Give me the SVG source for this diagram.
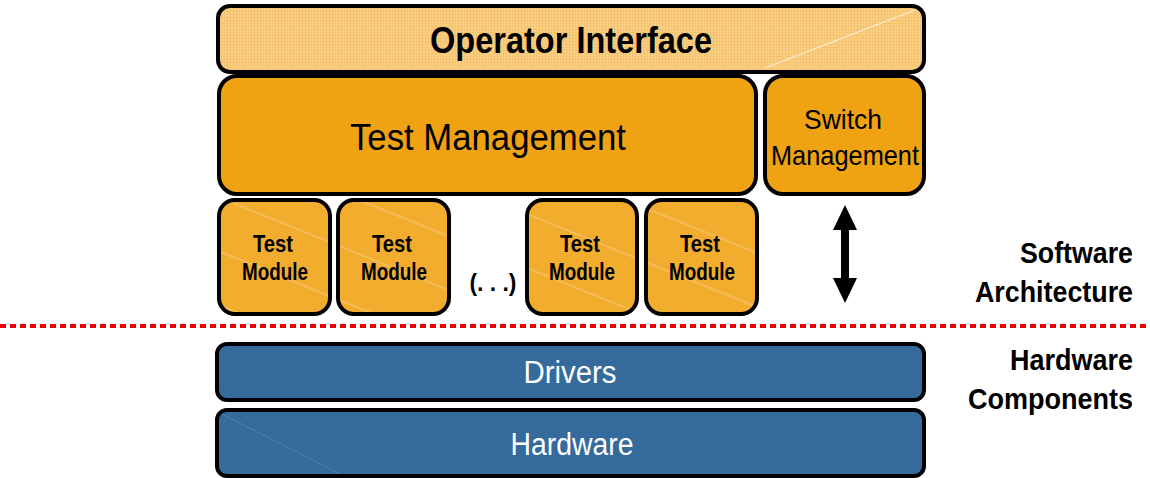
<svg xmlns="http://www.w3.org/2000/svg" width="1150" height="478" viewBox="0 0 1150 478">
<style>
text{font-family:"Liberation Sans",Arial,sans-serif;text-anchor:middle}
.box{stroke:#000;stroke-width:4}
.oi{fill:url(#grid)}
.tm{fill:#EFA212}
.mod{fill:url(#stripes)}
.hw{fill:#356A9C}
.big{font-size:36px;fill:#000}
.obig{font-size:36px;font-weight:bold;fill:#000}
.mid{font-size:28px;fill:#000}
.small{font-size:23px;font-weight:bold;fill:#000}
.side{font-size:30px;font-weight:bold;fill:#000;text-anchor:end}
.wt{font-size:31px;fill:#fff}
</style>
<defs>
<pattern id="grid" width="3" height="3" patternUnits="userSpaceOnUse">
<rect width="3" height="3" fill="#F5C46C"/>
<rect width="2" height="2" fill="#F8D08A"/>
</pattern>
<pattern id="stripes" width="120" height="50" patternUnits="userSpaceOnUse" patternTransform="rotate(22)">
<rect width="120" height="50" fill="#F2AD2E"/>
<line x1="0" y1="1" x2="120" y2="1" stroke="#F7CB7C" stroke-width="1.2"/>
</pattern>
</defs>
<g id="operator-interface">
<rect class="box oi" x="218" y="6" width="706" height="66" rx="12"/>
<line x1="765" y1="68" x2="915" y2="10" stroke="#fff" stroke-width="1" opacity="0.8"/>
<text class="obig" x="571" y="53" textLength="282" lengthAdjust="spacingAndGlyphs">Operator Interface</text>
</g>
<g id="test-management">
<rect class="box tm" x="219" y="76" width="537" height="118" rx="18"/>
<text class="big" x="488" y="150" textLength="276" lengthAdjust="spacingAndGlyphs">Test Management</text>
</g>
<g id="switch-management">
<rect class="box tm" x="765" y="76" width="159" height="118" rx="18"/>
<text class="mid" x="843" y="129" textLength="78" lengthAdjust="spacingAndGlyphs">Switch</text>
<text class="mid" x="845" y="165" textLength="148" lengthAdjust="spacingAndGlyphs">Management</text>
</g>
<g id="test-module-1">
<rect class="box mod" x="219" y="200" width="111" height="114" rx="16"/>
<text class="small" x="273" y="252" textLength="40" lengthAdjust="spacingAndGlyphs">Test</text>
<text class="small" x="275" y="280" textLength="66" lengthAdjust="spacingAndGlyphs">Module</text>
</g>
<g id="test-module-2">
<rect class="box mod" x="338" y="200" width="111" height="114" rx="16"/>
<text class="small" x="392" y="252" textLength="40" lengthAdjust="spacingAndGlyphs">Test</text>
<text class="small" x="394" y="280" textLength="66" lengthAdjust="spacingAndGlyphs">Module</text>
</g>
<g id="ellipsis">
<text class="small" x="493" y="291" textLength="47" lengthAdjust="spacingAndGlyphs">(. . .)</text>
</g>
<g id="test-module-3">
<rect class="box mod" x="527" y="200" width="110" height="114" rx="16"/>
<text class="small" x="580" y="252" textLength="40" lengthAdjust="spacingAndGlyphs">Test</text>
<text class="small" x="582" y="280" textLength="66" lengthAdjust="spacingAndGlyphs">Module</text>
</g>
<g id="test-module-4">
<rect class="box mod" x="646" y="200" width="111" height="114" rx="16"/>
<text class="small" x="700" y="252" textLength="40" lengthAdjust="spacingAndGlyphs">Test</text>
<text class="small" x="702" y="280" textLength="66" lengthAdjust="spacingAndGlyphs">Module</text>
</g>
<g id="connectors">
<path d="M845,205 L857,230 L849,230 L849,278 L857,278 L845,303 L833,278 L841,278 L841,230 L833,230 Z" fill="#000"/>
<line x1="0" y1="326" x2="1150" y2="326" stroke="#F00000" stroke-width="4" stroke-dasharray="6,4"/>
</g>
<g id="software-architecture-label">
<text class="side" x="1133" y="263" textLength="113" lengthAdjust="spacingAndGlyphs">Software</text>
<text class="side" x="1133" y="302" textLength="158" lengthAdjust="spacingAndGlyphs">Architecture</text>
</g>
<g id="drivers">
<rect class="box hw" x="217" y="344" width="707" height="56" rx="10"/>
<text class="wt" x="570" y="383" textLength="93" lengthAdjust="spacingAndGlyphs">Drivers</text>
</g>
<g id="hardware">
<rect class="box hw" x="217" y="410" width="707" height="66" rx="10"/>
<line x1="222" y1="414" x2="340" y2="474" stroke="#5C88B5" stroke-width="1" opacity="0.7"/>
<text class="wt" x="572" y="455" textLength="123" lengthAdjust="spacingAndGlyphs">Hardware</text>
</g>
<g id="hardware-components-label">
<text class="side" x="1133" y="370" textLength="123" lengthAdjust="spacingAndGlyphs">Hardware</text>
<text class="side" x="1133" y="409" textLength="165" lengthAdjust="spacingAndGlyphs">Components</text>
</g>
</svg>
